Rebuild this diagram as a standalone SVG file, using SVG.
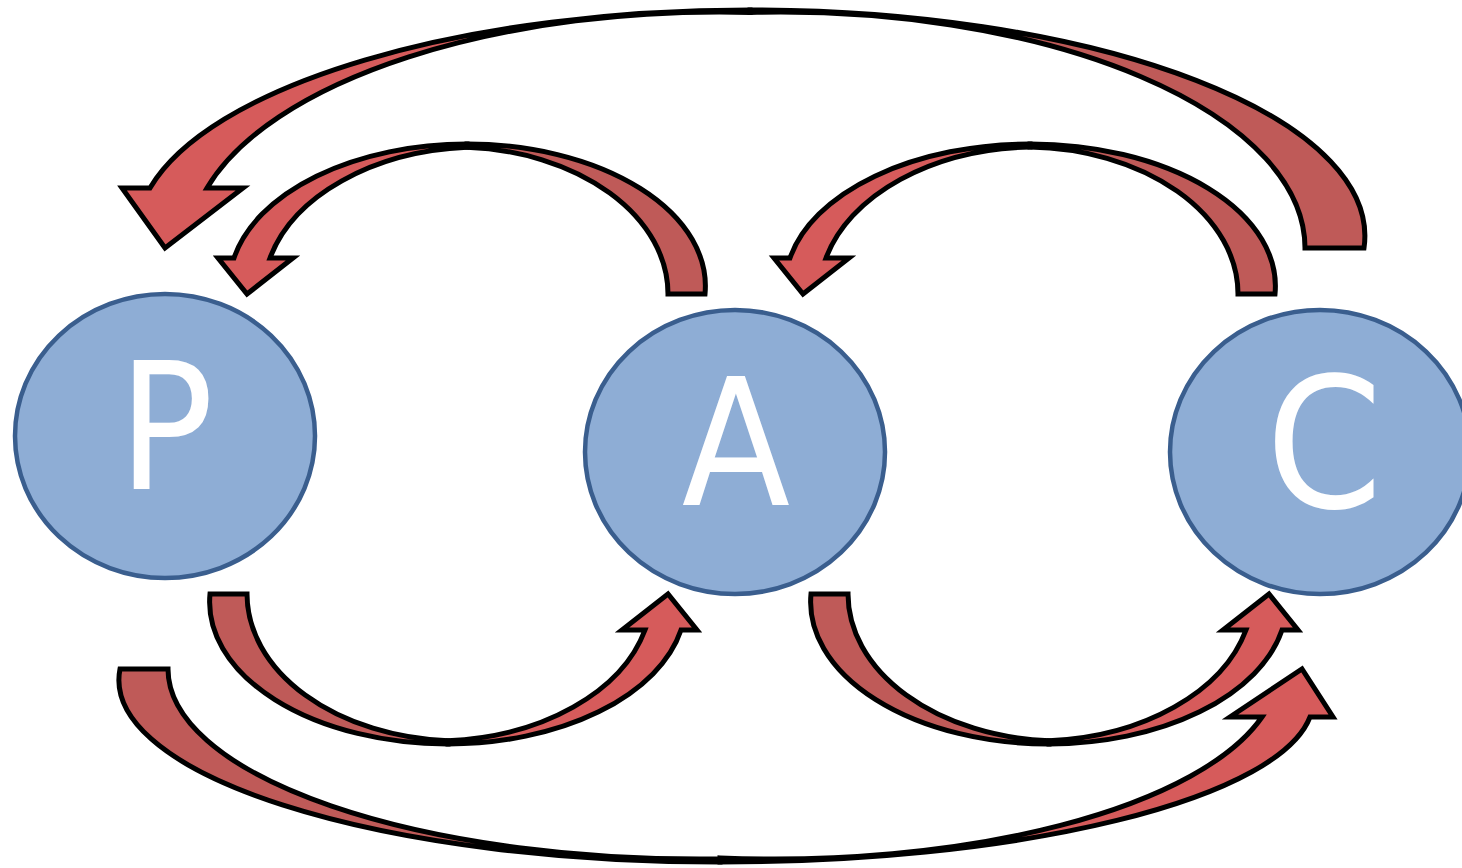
<svg xmlns="http://www.w3.org/2000/svg" width="1462" height="868" viewBox="0 0 1462 868">
<style>
.node{fill:#8eadd5;stroke:#3a5e8e;stroke-width:4.5}
.lbl{font-family:"DejaVu Sans",Verdana,sans-serif;font-size:176px;fill:#ffffff;text-anchor:middle}
.front{fill:#d65b5b;stroke:#000;stroke-width:5;stroke-linejoin:miter}
.back{fill:#bf5a58;stroke:#000;stroke-width:5;stroke-linejoin:miter}
</style>
<rect width="1462" height="868" fill="#ffffff"/>
<g id="node-P"><ellipse class="node" cx="165" cy="436" rx="150" ry="142"/><text class="lbl" transform="translate(166 489) scale(0.9 1)">P</text></g>
<g id="node-A"><ellipse class="node" cx="735" cy="452" rx="150" ry="142"/><text class="lbl" transform="translate(736 505) scale(0.9 1)">A</text></g>
<g id="node-C"><ellipse class="node" cx="1320" cy="452" rx="150" ry="142"/><text class="lbl" transform="translate(1324 507) scale(0.95 1.03)">C</text></g>
<g id="connectors">
<g id="arrow-C-P">
<path class="back" d="M1364,248 A614 226 0 0 0 750,10 L750,12.4 A525 236 0 0 1 1305,248 Z"/>
<path class="front" d="M750,10 A614 226 0 0 0 150,188 L122,188 L165,248 L243,188 L207,188 A530 236 0 0 1 750,12.4 Z"/>
</g>
<g id="arrow-A-P">
<path class="back" d="M705,294 A238 142 0 0 0 467,144 L467,147.2 A213 147 0 0 1 668,294 Z"/>
<path class="front" d="M467,144 A238 142 0 0 0 234,258 L218,258 L247,294 L293,258 L270,258 A217 147 0 0 1 467,147.3 Z"/>
</g>
<g id="arrow-C-A">
<path class="back" d="M1275,294 A245 142 0 0 0 1030,144 L1030,147 A213 147 0 0 1 1238,294 Z"/>
<path class="front" d="M1030,144 A245 142 0 0 0 790,258 L774,258 L803,294 L849,258 L826,258 A217 147 0 0 1 1030,147 Z"/>
</g>
<g id="arrow-P-A" transform="rotate(180 457.5 444)">
<path class="back" d="M705,294 A238 142 0 0 0 467,144 L467,147.2 A213 147 0 0 1 668,294 Z"/>
<path class="front" d="M467,144 A238 142 0 0 0 234,258 L218,258 L247,294 L293,258 L270,258 A217 147 0 0 1 467,147.3 Z"/>
</g>
<g id="arrow-A-C" transform="rotate(180 758 444)">
<path class="back" d="M705,294 A238 142 0 0 0 467,144 L467,147.2 A213 147 0 0 1 668,294 Z"/>
<path class="front" d="M467,144 A238 142 0 0 0 234,258 L218,258 L247,294 L293,258 L270,258 A217 147 0 0 1 467,147.3 Z"/>
</g>
<g id="arrow-P-C">
<path class="back" d="M120,669 A600 182 0 0 0 720,862 L720,858.9 A532 190 0 0 1 168,669 Z"/>
<path class="front" d="M720,862 A593 162 0 0 0 1310,717 L1333,717 L1302,669 L1230,717 L1262,717 A504 190 0 0 1 720,857.9 Z"/>
</g>
</g>
</svg>
